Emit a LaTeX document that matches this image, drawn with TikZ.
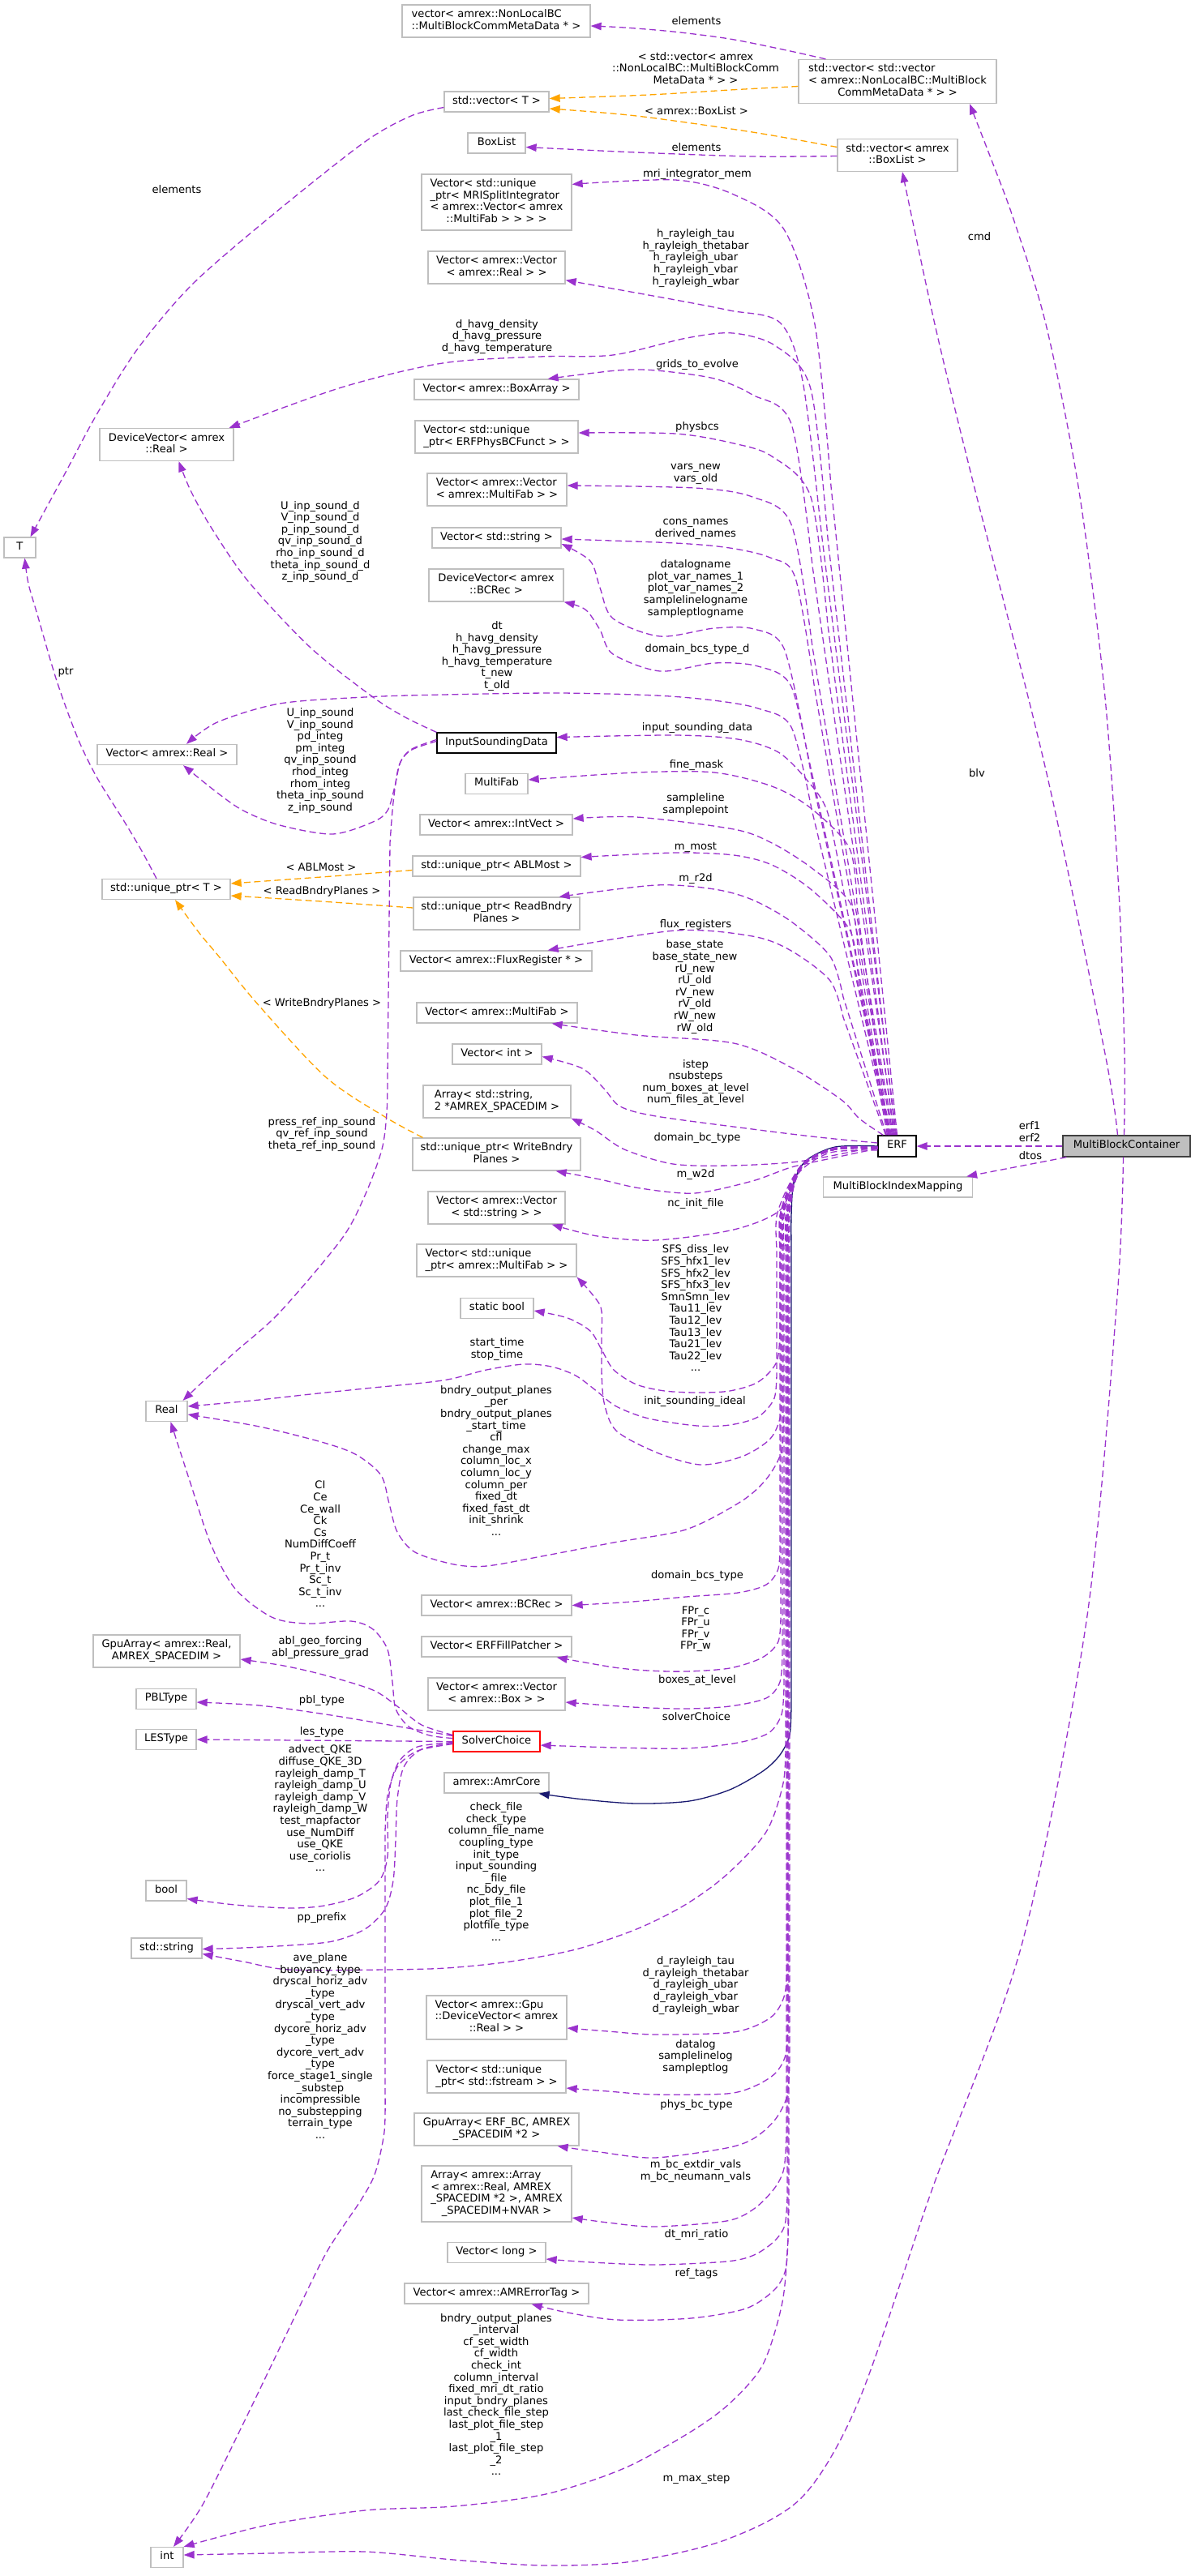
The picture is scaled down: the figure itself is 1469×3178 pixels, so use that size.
\documentclass[tikz,border=0pt]{standalone}
\usepackage{fontspec}
\setmainfont{DejaVu Sans}
\usetikzlibrary{arrows.meta}
\definecolor{epurple}{HTML}{9A32CD}
\definecolor{eorange}{HTML}{FFA500}
\definecolor{enavy}{HTML}{191970}
\definecolor{bgray}{HTML}{BFBFBF}
\definecolor{mbcdraw}{HTML}{404040}
\newcommand{\boxlines}[1]{\begin{tabular}{@{}l@{}}#1\end{tabular}}
\newcommand{\lastc}[1]{\multicolumn{1}{@{}c@{}}{#1}}
\newcommand{\lbltxt}[1]{\begin{tabular}{@{}c@{}}#1\end{tabular}}
\begin{document}
\begin{tikzpicture}[x=1pt,y=-1pt,
  font=\fontsize{13.1pt}{14.6pt}\selectfont,
  cls/.style={draw=bgray, line width=1.3pt, fill=white, inner sep=0pt, minimum height=25pt, text=black},
  hb/.style={minimum height=40pt},
  hc/.style={minimum height=54pt},
  hd/.style={minimum height=69pt},
  pe/.style={draw=epurple, line width=1.3pt, dash pattern=on 8pt off 4.5pt, -{Triangle[length=13pt,width=9.5pt]}},
  oe/.style={pe, draw=eorange},
  ne/.style={draw=enavy, line width=1.3pt, -{Triangle[length=13pt,width=9.5pt]}},
  lab/.style={inner sep=0pt, text=black},
]
\fill[white] (0,0) rectangle (1469,3178);
\useasboundingbox (0,0) rectangle (1469,3178);

% ---------------- nodes: left column
\node[cls, minimum width=39pt] (T) at (24.5,675.5) {\boxlines{T}};
\node[cls, hb, minimum width=165pt] (devReal) at (205.5,548.5) {\boxlines{DeviceVector< amrex\\\lastc{::Real >}}};
\node[cls, minimum width=172pt] (vecReal) at (206,931) {\boxlines{Vector< amrex::Real >}};
\node[cls, minimum width=158pt] (uptrT) at (205,1097) {\boxlines{std::unique\_ptr< T >}};
\node[cls, minimum width=51pt] (Real) at (205.5,1741) {\boxlines{Real}};
\node[cls, hb, minimum width=181pt] (gpuReal) at (205.5,2037) {\boxlines{GpuArray< amrex::Real,\\\lastc{AMREX\_SPACEDIM >}}};
\node[cls, minimum width=74pt] (PBL) at (205,2096) {\boxlines{PBLType}};
\node[cls, minimum width=74pt] (LES) at (205,2146) {\boxlines{LESType}};
\node[cls, minimum width=50pt] (bool) at (205,2332.5) {\boxlines{bool}};
\node[cls, minimum width=87pt] (string) at (205.5,2403.5) {\boxlines{std::string}};
\node[cls, minimum width=40pt] (int) at (206,3155) {\boxlines{int}};

% ---------------- nodes: middle column
\node[cls, hb, minimum width=232pt] (vecNL) at (612,26) {\boxlines{vector< amrex::NonLocalBC\\\lastc{::MultiBlockCommMetaData * >}}};
\node[cls, minimum width=129pt] (vecT) at (612.5,125.5) {\boxlines{std::vector< T >}};
\node[cls, minimum width=71pt] (BoxList) at (612.5,176.5) {\boxlines{BoxList}};
\node[cls, hd, minimum width=185pt] (vecMRI) at (612.5,249.5) {\boxlines{Vector< std::unique\\\_ptr< MRISplitIntegrator\\< amrex::Vector< amrex\\\lastc{::MultiFab > > > >}}};
\node[cls, hb, minimum width=169pt] (vecVecReal) at (612.5,330) {\boxlines{Vector< amrex::Vector\\\lastc{< amrex::Real > >}}};
\node[cls, minimum width=203pt] (vecBA) at (612.5,480.5) {\boxlines{Vector< amrex::BoxArray >}};
\node[cls, hb, minimum width=201pt] (vecPhys) at (612.5,539) {\boxlines{Vector< std::unique\\\lastc{\_ptr< ERFPhysBCFunct > >}}};
\node[cls, hb, minimum width=172pt] (vecVecMF) at (613,604) {\boxlines{Vector< amrex::Vector\\\lastc{< amrex::MultiFab > >}}};
\node[cls, minimum width=159pt] (vecStr) at (612.5,663.5) {\boxlines{Vector< std::string >}};
\node[cls, hb, minimum width=166pt] (devBC) at (612,722) {\boxlines{DeviceVector< amrex\\\lastc{::BCRec >}}};
\node[cls, draw=black, minimum width=147pt] (ISD) at (612.5,916.5) {\boxlines{InputSoundingData}};
\node[cls, minimum width=77pt] (MF) at (612.5,967) {\boxlines{MultiFab}};
\node[cls, minimum width=188pt] (vecIV) at (612,1017.5) {\boxlines{Vector< amrex::IntVect >}};
\node[cls, minimum width=207pt] (uptrABL) at (612.5,1068.5) {\boxlines{std::unique\_ptr< ABLMost >}};
\node[cls, hb, minimum width=205pt] (uptrRead) at (612.5,1127) {\boxlines{std::unique\_ptr< ReadBndry\\\lastc{Planes >}}};
\node[cls, minimum width=236pt] (vecFlux) at (612,1185.5) {\boxlines{Vector< amrex::FluxRegister * >}};
\node[cls, minimum width=198pt] (vecMF) at (613,1249.5) {\boxlines{Vector< amrex::MultiFab >}};
\node[cls, minimum width=110pt] (vecInt) at (613,1300.5) {\boxlines{Vector< int >}};
\node[cls, hb, minimum width=182pt] (arrStr) at (613,1359) {\boxlines{Array< std::string,\\\lastc{2 *AMREX\_SPACEDIM >}}};
\node[cls, hb, minimum width=207pt] (uptrWrite) at (612.5,1424) {\boxlines{std::unique\_ptr< WriteBndry\\\lastc{Planes >}}};
\node[cls, hb, minimum width=169pt] (vecVecStr) at (612.5,1490) {\boxlines{Vector< amrex::Vector\\\lastc{< std::string > >}}};
\node[cls, hb, minimum width=197pt] (vecUMF) at (612.5,1555) {\boxlines{Vector< std::unique\\\lastc{\_ptr< amrex::MultiFab > >}}};
\node[cls, minimum width=90pt] (sbool) at (613,1614) {\boxlines{static bool}};
\node[cls, minimum width=185pt] (vecBC) at (612.5,1980.5) {\boxlines{Vector< amrex::BCRec >}};
\node[cls, minimum width=185pt] (vecFill) at (612.5,2031.5) {\boxlines{Vector< ERFFillPatcher >}};
\node[cls, hb, minimum width=169pt] (vecVecBox) at (612.5,2090) {\boxlines{Vector< amrex::Vector\\\lastc{< amrex::Box > >}}};
\node[cls, draw=red, minimum width=107pt] (SC) at (612.5,2148.5) {\boxlines{SolverChoice}};
\node[cls, minimum width=129pt] (Amr) at (612.5,2199.5) {\boxlines{amrex::AmrCore}};
\node[cls, hc, minimum width=173pt] (vecGpuDV) at (612.5,2489) {\boxlines{Vector< amrex::Gpu\\::DeviceVector< amrex\\\lastc{::Real > >}}};
\node[cls, hb, minimum width=171pt] (vecFs) at (612.5,2562) {\boxlines{Vector< std::unique\\\lastc{\_ptr< std::fstream > >}}};
\node[cls, hb, minimum width=203pt] (gpuBC) at (612.5,2627) {\boxlines{GpuArray< ERF\_BC, AMREX\\\lastc{\_SPACEDIM *2 >}}};
\node[cls, hd, minimum width=185pt] (arrArr) at (612.5,2706.5) {\boxlines{Array< amrex::Array\\< amrex::Real, AMREX\\\_SPACEDIM *2 >, AMREX\\\lastc{\_SPACEDIM+NVAR >}}};
\node[cls, minimum width=121pt] (vecLong) at (612.5,2779) {\boxlines{Vector< long >}};
\node[cls, minimum width=227pt] (vecTag) at (612.5,2829.5) {\boxlines{Vector< amrex::AMRErrorTag >}};

% ---------------- nodes: right column
\node[cls, hc, minimum width=244pt] (vecVecNL) at (1107,100.5) {\boxlines{std::vector< std::vector\\< amrex::NonLocalBC::MultiBlock\\\lastc{CommMetaData * > >}}};
\node[cls, hb, minimum width=148pt] (vecBL) at (1107,191.5) {\boxlines{std::vector< amrex\\\lastc{::BoxList >}}};
\node[cls, draw=black, minimum width=47pt, minimum height=26pt] (ERF) at (1106.5,1414) {\boxlines{ERF}};
\node[cls, minimum width=184pt] (MBIM) at (1107.5,1464.5) {\boxlines{MultiBlockIndexMapping}};
\node[cls, draw=mbcdraw, fill=bgray, minimum width=157pt, minimum height=26pt] (MBC) at (1389.5,1414) {\boxlines{MultiBlockContainer}};

% ---------------- edges: top group
\draw[pe] plot[smooth] coordinates {([xshift=34pt]vecVecNL.north west) (970,62) (900,48) (830,39) (770,34) ([yshift=-6pt]vecNL.east)};
\draw[oe] plot[smooth] coordinates {([yshift=-6pt]vecVecNL.west) (900,111) (800,117) ([yshift=4pt]vecT.east)};
\draw[oe] plot[smooth] coordinates {([yshift=10pt]vecBL.west) (928,163) (785,143) ([yshift=-8.5pt]vecT.east)};
\draw[pe] plot[smooth] coordinates {([yshift=-1pt]vecBL.west) (928,193) (785,188) ([yshift=-5pt]BoxList.east)};
\draw[pe] plot[smooth] coordinates {([yshift=-7pt]vecT.west) (507,143) (450,175) (340,262) (238,350) (170,430) (120,510) (77,590) ([xshift=13pt]T.north)};
\draw[pe] plot[smooth] coordinates {([xshift=-12pt]uptrT.north) (175,1050) (153,1013) (120,960) (96,911) (70,840) (46,758) (35,720) ([xshift=6pt]T.south)};
\draw[oe] plot[smooth] coordinates {([yshift=-5pt]uptrABL.west) (396,1082) ([yshift=7pt]uptrT.east)};
\draw[oe] plot[smooth] coordinates {([yshift=7pt]uptrRead.west) (396,1112) ([yshift=-8pt]uptrT.east)};
\draw[oe] plot[smooth] coordinates {([xshift=13pt]uptrWrite.north west) (475,1378) (402,1329) (318,1239) (270,1180) (245,1150) ([xshift=11pt]uptrT.south)};

% ---------------- edges: MultiBlockContainer
\draw[pe] plot[smooth] coordinates {([xshift=-3pt]MBC.north) (1387,1300) (1380,1100) (1362,850) (1330,600) (1290,400) (1250,270) (1222,195) ([xshift=89pt]vecVecNL.south)};
\draw[pe] plot[smooth] coordinates {([xshift=-11pt]MBC.north) (1363,1300) (1290,950) (1199,590) (1153,400) ([xshift=6pt]vecBL.south)};
\draw[pe] (MBC.west) -- (ERF.east);
\draw[pe] ([xshift=5pt]MBC.south west) -- ([xshift=-8pt]MBIM.north east);
\draw[pe] plot[smooth] coordinates {([xshift=-4pt]MBC.south) (1378,1600) (1340,2000) (1260,2400) (1150,2700) (1060,2960) (990,3080) (896,3133) (780,3160) (673,3165) (560,3158) (450,3148) (330,3150) ([yshift=3pt]int.east)};

% ---------------- edges: ERF upward
\draw[pe] (ERF.north) -- plot[smooth] coordinates {(1025,600) (1005,400) (967,283) (905,240) (833,222) ([yshift=-13pt]vecMRI.north east)};
\draw[pe] ([xshift=-1pt]ERF.north) -- plot[smooth] coordinates {(1013,656) (990,470) (962,398) (900,383) (833,370) ([yshift=5pt]vecVecReal.south east)};
\draw[pe] ([xshift=-2pt]ERF.north) -- plot[smooth] coordinates {(1021,664) (1000,480) (957,427) (904,411) (847,417) (756,438) (665,440) (546,448) (421,478) ([xshift=-6pt]devReal.north east)};
\draw[pe] ([xshift=-3pt]ERF.north) -- plot[smooth] coordinates {(1002,698) (976,523) (928,487) (881,467) (809,457) (761,457) ([xshift=-39pt]vecBA.north east)};
\draw[pe] ([xshift=-4pt]ERF.north) -- plot[smooth] coordinates {(1021,771) (1000,613) (952,563) (905,547) (833,535) ([yshift=5pt]vecPhys.east)};
\draw[pe] ([xshift=-5pt]ERF.north) -- plot[smooth] coordinates {(1002,798) (976,647) (928,613) (857,602) ([yshift=5pt]vecVecMF.east)};
\draw[pe] ([xshift=-6pt]ERF.north) -- plot[smooth] coordinates {(1005,851) (981,713) (950,688) (900,676) (833,670) ([yshift=-1.5pt]vecStr.east)};
\draw[pe] ([xshift=-7pt]ERF.north) -- plot[smooth] coordinates {(994,920) (967,800) (930,776) (881,775) (814,785) (756,763) (740,725) (728,692) ([yshift=-7.5pt]vecStr.east)};
\draw[pe] ([xshift=-8pt]ERF.north) -- plot[smooth] coordinates {(1001,958) (976,847) (935,822) (881,818) (814,828) (756,807) (740,777) (722,752) (devBC.south east)};
\draw[pe] ([xshift=-9pt]ERF.north) -- plot[smooth] coordinates {(1001,998) (976,897) (935,874) (880,864) (809,858) (689,855) (546,857) (450,860) (345,868) (268,891) ([xshift=24pt]vecReal.north)};
\draw[pe] ([xshift=-10pt]ERF.north) -- plot[smooth] coordinates {(1037,1080) (1020,1000) (995,962) (960,928) (910,912) (833,907) ([yshift=7pt]ISD.east)};
\draw[pe] ([xshift=-10pt]ERF.north) -- plot[smooth] coordinates {(1057,1118) (1048,1047) (1000,997) (952,970) (881,953) (785,953) ([yshift=5pt]MF.east)};
\draw[pe] ([xshift=-11pt]ERF.north) -- plot[smooth] coordinates {(1058,1170) (1048,1113) (1000,1070) (952,1040) (905,1023) (785,1008) ([yshift=7.5pt]vecIV.east)};
\draw[pe] ([xshift=-12pt]ERF.north) -- plot[smooth] coordinates {(1058,1200) (1048,1147) (1000,1097) (952,1067) (905,1055) (833,1052) ([yshift=11pt]uptrABL.east)};
\draw[pe] ([xshift=-13pt]ERF.north) -- plot[smooth] coordinates {(1040,1230) (1024,1180) (976,1137) (928,1110) (881,1097) (809,1092) ([xshift=-26pt]uptrRead.north east)};
\draw[pe] ([xshift=-14pt]ERF.north) -- plot[smooth] coordinates {(1040,1255) (1024,1210) (976,1173) (928,1155) (833,1148) ([xshift=-55pt]vecFlux.north east)};
\draw[pe] plot[smooth] coordinates {([xshift=7pt]ERF.north west) (1060,1380) (1038,1357) (976,1317) (905,1287) (785,1277) ([xshift=-32pt]vecMF.south east)};

% ---------------- edges: ERF left
\draw[pe] plot[smooth] coordinates {([yshift=4pt]ERF.west) (1010,1403) (928,1393) (809,1377) (765,1365) (745,1343) (718,1318) ([yshift=-3pt]vecInt.east)};
\draw[pe] plot[smooth] coordinates {(ERF.west) (1030,1425) (976,1434) (900,1438) (830,1436) (770,1418) (735,1395) (arrStr.south east)};
\draw[pe] plot[smooth] coordinates {([yshift=-3pt]ERF.west) (1030,1428) (976,1440) (928,1457) (857,1472) (790,1466) (740,1455) ([xshift=-31pt]uptrWrite.south east)};
\draw[pe] plot[smooth] coordinates {([yshift=-5pt]ERF.west) (1024,1422) (985,1447) (962,1493) (905,1517) (809,1530) (737,1525) ([xshift=-17pt]vecVecStr.south east)};

% ---------------- edges: ERF trunk
\draw[pe] plot[smooth] coordinates {([yshift=-2pt]ERF.west) (1030,1417) (993,1434) (976,1460) (964,1500) (964,1540)} -- plot[smooth] coordinates {(964,1700) (963,1745) (950,1775) (915,1797) (864,1807) (810,1792) (760,1765) (745,1730) (742,1690)} -- plot[smooth] coordinates {(742,1640) (740,1610) (vecUMF.south east)};
\draw[pe] plot[smooth] coordinates {([yshift=-1pt]ERF.west) (1030,1416) (993,1433) (975,1460) (962,1500) (962,1540)} -- plot[smooth] coordinates {(962,1640) (958,1680) (935,1705) (900,1716) (861,1718) (820,1716) (785,1708) (757,1690) (742,1665) (728,1642) (700,1626) ([yshift=-3pt]sbool.east)};
\draw[pe] plot[smooth] coordinates {([yshift=-2pt]ERF.west) (1030,1417) (993,1434) (974,1460) (958,1500) (958,1540)} -- plot[smooth] coordinates {(958,1690) (955,1725) (935,1748) (900,1758) (860,1759) (800,1750) (760,1735) (737,1717) (710,1697) (680,1686) (646,1683) (600,1690) (546,1703) (450,1713) (383,1720) (310,1728) ([yshift=6pt]Real.east)};
\draw[pe] plot[smooth] coordinates {([yshift=-3pt]ERF.west) (1030,1418) (993,1435) (977,1460) (966,1500) (966,1540)} -- plot[smooth] coordinates {(966,1740) (964,1790) (945,1825) (913,1853) (846,1887) (757,1903) (668,1920) (600,1932) (560,1930) (512,1915) (490,1890) (480,1855) (470,1820) (440,1795) (400,1780) (320,1760) ([yshift=-4pt]Real.east)};
\draw[pe] plot[smooth] coordinates {([yshift=-1pt]ERF.west) (1030,1416) (993,1433) (975,1460) (962,1500) (962,1540)} -- plot[smooth] coordinates {(962,1900) (960,1935) (945,1955) (910,1965) (846,1970) (780,1976) (vecBC.east)};
\draw[pe] plot[smooth] coordinates {([yshift=-2pt]ERF.west) (1030,1417) (993,1434) (976,1460) (963,1500) (963,1540)} -- plot[smooth] coordinates {(963,1990) (960,2025) (940,2045) (900,2058) (846,2062) (800,2061) (757,2057) ([xshift=-19pt]vecFill.south east)};
\draw[pe] plot[smooth] coordinates {([yshift=-3pt]ERF.west) (1030,1418) (993,1435) (977,1460) (965,1500) (965,1540)} -- plot[smooth] coordinates {(965,2040) (962,2075) (945,2095) (900,2105) (846,2108) (780,2106) ([yshift=-10pt]vecVecBox.east)};
\draw[pe] plot[smooth] coordinates {([yshift=-1pt]ERF.west) (1030,1416) (993,1433) (977,1460) (967,1500) (967,1540)} -- plot[smooth] coordinates {(967,2080) (964,2115) (948,2138) (910,2150) (846,2157) (760,2156) ([yshift=-4.5pt]SC.east)};
\draw[ne] plot[smooth] coordinates {(ERF.west) (1030,1415) (994,1432) (979,1460) (976,1500) (976,1540)} -- plot[smooth] coordinates {(976,2100) (974,2140) (962,2165) (941,2185) (900,2208) (850,2222) (785,2225) (720,2220) ([xshift=-13pt]Amr.south east)};
\draw[pe] plot[smooth] coordinates {([yshift=-2pt]ERF.west) (1030,1417) (993,1434) (978,1460) (969,1500) (969,1540)} -- plot[smooth] coordinates {(969,2150) (966,2200) (945,2260) (896,2313) (845,2350) (785,2380) (710,2405) (629,2420) (550,2428) (473,2430) (357,2430) (300,2420) ([yshift=-7pt]string.east)};
\draw[pe] plot[smooth] coordinates {([yshift=-3pt]ERF.west) (1030,1418) (993,1435) (979,1460) (971,1500) (971,1540)} -- plot[smooth] coordinates {(971,2420) (968,2460) (955,2485) (930,2500) (896,2508) (807,2510) (750,2506) ([yshift=-13pt]vecGpuDV.east)};
\draw[pe] plot[smooth] coordinates {([yshift=-1pt]ERF.west) (1030,1416) (993,1433) (979,1460) (972,1500) (972,1540)} -- plot[smooth] coordinates {(972,2495) (969,2535) (956,2558) (930,2574) (896,2583) (807,2584) (750,2580) ([yshift=-14pt]vecFs.east)};
\draw[pe] plot[smooth] coordinates {([yshift=-2pt]ERF.west) (1030,1417) (994,1434) (980,1460) (974,1500) (974,1540)} -- plot[smooth] coordinates {(974,2540) (971,2585) (956,2615) (930,2638) (896,2650) (807,2662) (740,2655) ([xshift=-27pt]gpuBC.south east)};
\draw[pe] plot[smooth] coordinates {([yshift=-3pt]ERF.west) (1030,1418) (993,1435) (978,1460) (970,1500) (970,1540)} -- plot[smooth] coordinates {(970,2630) (967,2675) (955,2700) (930,2725) (896,2740) (807,2747) (750,2742) ([yshift=-29.5pt]arrArr.east)};
\draw[pe] plot[smooth] coordinates {([yshift=-1pt]ERF.west) (1030,1416) (993,1433) (979,1460) (971,1500) (971,1540)} -- plot[smooth] coordinates {(971,2710) (968,2745) (955,2765) (930,2782) (896,2790) (807,2794) (730,2791) ([yshift=-8pt]vecLong.east)};
\draw[pe] plot[smooth] coordinates {([yshift=-2pt]ERF.west) (1030,1417) (993,1434) (979,1460) (972,1500) (972,1540)} -- plot[smooth] coordinates {(972,2760) (969,2800) (955,2825) (920,2848) (852,2860) (762,2862) (700,2853) ([xshift=-71pt]vecTag.south east)};
\draw[pe] plot[smooth] coordinates {([yshift=-3pt]ERF.west) (1030,1418) (994,1435) (980,1460) (973,1500) (973,1540)} -- plot[smooth] coordinates {(973,2700) (972,2760) (965,2840) (941,2917) (900,2965) (852,3000) (770,3045) (673,3077) (560,3092) (450,3097) (330,3115) (int.north east)};

% ---------------- edges: SolverChoice
\draw[pe] plot[smooth] coordinates {([yshift=4pt]SC.west) (530,2141) (504,2130) (488,2108) (484,2075) (478,2035) (460,2010) (433,2000) (379,2003) (335,1995) (290,1960) (260,1905) (235,1830) ([xshift=5pt]Real.south)};
\draw[pe] plot[smooth] coordinates {([yshift=8pt]SC.west) (520,2128) (490,2105) (460,2085) (402,2067) (350,2055) ([yshift=-10pt]gpuReal.east)};
\draw[pe] plot[smooth] coordinates {([yshift=7pt]SC.west) (480,2128) (402,2115) (320,2104) ([yshift=-4pt]PBL.east)};
\draw[pe] (SC.west) -- (LES.east);
\draw[pe] plot[smooth] coordinates {([yshift=-1pt]SC.west) (515,2155) (493,2172) (482,2200) (478,2240) (478,2290) (468,2320) (440,2340) (400,2351) (357,2354) (290,2350) ([yshift=-10pt]bool.east)};
\draw[pe] plot[smooth] coordinates {([yshift=-2pt]SC.west) (520,2158) (498,2180) (490,2220) (488,2270) (485,2320) (475,2355) (450,2380) (410,2395) (357,2400) (300,2403) ([yshift=-1pt]string.east)};
\draw[pe] plot[smooth] coordinates {([yshift=-3pt]SC.west) (515,2160) (490,2180) (478,2215) (475,2260)} -- plot[smooth] coordinates {(475,2580) (474,2630) (463,2680) (446,2713) (402,2780) (353,2880) (300,2990) (250,3090) ([xshift=8pt]int.north)};

% ---------------- edges: InputSoundingData
\draw[pe] plot[smooth] coordinates {(ISD.north west) (500,885) (460,860) (383,799) (306,717) (260,650) (235,605) ([xshift=15pt]devReal.south)};
\draw[pe] plot[smooth] coordinates {([yshift=4pt]ISD.west) (508,924) (494,940) (487,970) (478,1000) (460,1014) (410,1029) (345,1018) (300,1000) (268,978) ([xshift=20pt]vecReal.south)};
\draw[pe] plot[smooth] coordinates {([yshift=2pt]ISD.west) (506,926) (492,945) (485,990) (481,1040)} -- plot[smooth] coordinates {(478,1330) (477,1373) (471,1418) (450,1475) (421,1529) (345,1619) (290,1668) (255,1700) ([xshift=20pt]Real.north)};

% ---------------- labels
\node[lab] (l1) at (859,26) {elements};
\node[lab] (l2) at (858,86) {\lbltxt{< std::vector< amrex\\::NonLocalBC::MultiBlockComm\\MetaData * > >}};
\node[lab] (l3) at (859,137) {< amrex::BoxList >};
\node[lab] (l4) at (859,182) {elements};
\node[lab] (l5) at (218,234) {elements};
\node[lab] (l6) at (860,215) {mri\_integrator\_mem};
\node[lab] (l7) at (858,319) {\lbltxt{h\_rayleigh\_tau\\h\_rayleigh\_thetabar\\h\_rayleigh\_ubar\\h\_rayleigh\_vbar\\h\_rayleigh\_wbar}};
\node[lab] (l8) at (613,416) {\lbltxt{d\_havg\_density\\d\_havg\_pressure\\d\_havg\_temperature}};
\node[lab] (l9) at (860,450) {grids\_to\_evolve};
\node[lab] (l10) at (860,527) {physbcs};
\node[lab] (l11) at (858,584) {\lbltxt{vars\_new\\vars\_old}};
\node[lab] (l12) at (858,652) {\lbltxt{cons\_names\\derived\_names}};
\node[lab] (l13) at (858,727) {\lbltxt{datalogname\\plot\_var\_names\_1\\plot\_var\_names\_2\\samplelinelogname\\sampleptlogname}};
\node[lab] (l14) at (860,801) {domain\_bcs\_type\_d};
\node[lab] (l15) at (395,669) {\lbltxt{U\_inp\_sound\_d\\V\_inp\_sound\_d\\p\_inp\_sound\_d\\qv\_inp\_sound\_d\\rho\_inp\_sound\_d\\theta\_inp\_sound\_d\\z\_inp\_sound\_d}};
\node[lab] (l16) at (613,810) {\lbltxt{dt\\h\_havg\_density\\h\_havg\_pressure\\h\_havg\_temperature\\t\_new\\t\_old}};
\node[lab] (l17) at (81,829) {ptr};
\node[lab] (l18) at (860,898) {input\_sounding\_data};
\node[lab] (l19) at (395,939) {\lbltxt{U\_inp\_sound\\V\_inp\_sound\\pd\_integ\\pm\_integ\\qv\_inp\_sound\\rhod\_integ\\rhom\_integ\\theta\_inp\_sound\\z\_inp\_sound}};
\node[lab] (l20) at (859,944) {fine\_mask};
\node[lab] (l21) at (858,993) {\lbltxt{sampleline\\samplepoint}};
\node[lab] (l22) at (858,1045) {m\_most};
\node[lab] (l23) at (396,1070) {< ABLMost >};
\node[lab] (l24) at (858,1084) {m\_r2d};
\node[lab] (l25) at (397,1100) {< ReadBndryPlanes >};
\node[lab] (l26) at (858,1141) {flux\_registers};
\node[lab] (l27) at (857,1218) {\lbltxt{base\_state\\base\_state\_new\\rU\_new\\rU\_old\\rV\_new\\rV\_old\\rW\_new\\rW\_old}};
\node[lab] (l28) at (858,1336) {\lbltxt{istep\\nsubsteps\\num\_boxes\_at\_level\\num\_files\_at\_level}};
\node[lab] (l29) at (860,1404) {domain\_bc\_type};
\node[lab] (l30) at (858,1449) {m\_w2d};
\node[lab] (l31) at (858,1485) {nc\_init\_file};
\node[lab] (l32) at (397,1238) {< WriteBndryPlanes >};
\node[lab] (l33) at (397,1400) {\lbltxt{press\_ref\_inp\_sound\\qv\_ref\_inp\_sound\\theta\_ref\_inp\_sound}};
\node[lab] (l34) at (858,1616) {\lbltxt{SFS\_diss\_lev\\SFS\_hfx1\_lev\\SFS\_hfx2\_lev\\SFS\_hfx3\_lev\\SmnSmn\_lev\\Tau11\_lev\\Tau12\_lev\\Tau13\_lev\\Tau21\_lev\\Tau22\_lev\\...}};
\node[lab] (l35) at (613,1665) {\lbltxt{start\_time\\stop\_time}};
\node[lab] (l36) at (857,1729) {init\_sounding\_ideal};
\node[lab] (l37) at (612,1804) {\lbltxt{bndry\_output\_planes\\\_per\\bndry\_output\_planes\\\_start\_time\\cfl\\change\_max\\column\_loc\_x\\column\_loc\_y\\column\_per\\fixed\_dt\\fixed\_fast\_dt\\init\_shrink\\...}};
\node[lab] (l38) at (395,1907) {\lbltxt{CI\\Ce\\Ce\_wall\\Ck\\Cs\\NumDiffCoeff\\Pr\_t\\Pr\_t\_inv\\Sc\_t\\Sc\_t\_inv\\...}};
\node[lab] (l39) at (860,1944) {domain\_bcs\_type};
\node[lab] (l40) at (858,2010) {\lbltxt{FPr\_c\\FPr\_u\\FPr\_v\\FPr\_w}};
\node[lab] (l41) at (395,2033) {\lbltxt{abl\_geo\_forcing\\abl\_pressure\_grad}};
\node[lab] (l42) at (860,2073) {boxes\_at\_level};
\node[lab] (l43) at (397,2098) {pbl\_type};
\node[lab] (l44) at (859,2118) {solverChoice};
\node[lab] (l45) at (397,2137) {les\_type};
\node[lab] (l46) at (395,2233) {\lbltxt{advect\_QKE\\diffuse\_QKE\_3D\\rayleigh\_damp\_T\\rayleigh\_damp\_U\\rayleigh\_damp\_V\\rayleigh\_damp\_W\\test\_mapfactor\\use\_NumDiff\\use\_QKE\\use\_coriolis\\...}};
\node[lab] (l47) at (612,2311) {\lbltxt{check\_file\\check\_type\\column\_file\_name\\coupling\_type\\init\_type\\input\_sounding\\\_file\\nc\_bdy\_file\\plot\_file\_1\\plot\_file\_2\\plotfile\_type\\...}};
\node[lab] (l48) at (397,2366) {pp\_prefix};
\node[lab] (l49) at (858,2450) {\lbltxt{d\_rayleigh\_tau\\d\_rayleigh\_thetabar\\d\_rayleigh\_ubar\\d\_rayleigh\_vbar\\d\_rayleigh\_wbar}};
\node[lab] (l50) at (395,2526) {\lbltxt{ave\_plane\\buoyancy\_type\\dryscal\_horiz\_adv\\\_type\\dryscal\_vert\_adv\\\_type\\dycore\_horiz\_adv\\\_type\\dycore\_vert\_adv\\\_type\\force\_stage1\_single\\\_substep\\incompressible\\no\_substepping\\terrain\_type\\...}};
\node[lab] (l51) at (858,2538) {\lbltxt{datalog\\samplelinelog\\sampleptlog}};
\node[lab] (l52) at (859,2597) {phys\_bc\_type};
\node[lab] (l53) at (858,2679) {\lbltxt{m\_bc\_extdir\_vals\\m\_bc\_neumann\_vals}};
\node[lab] (l54) at (859,2757) {dt\_mri\_ratio};
\node[lab] (l55) at (859,2805) {ref\_tags};
\node[lab] (l56) at (612,2956) {\lbltxt{bndry\_output\_planes\\\_interval\\cf\_set\_width\\cf\_width\\check\_int\\column\_interval\\fixed\_mri\_dt\_ratio\\input\_bndry\_planes\\last\_check\_file\_step\\last\_plot\_file\_step\\\_1\\last\_plot\_file\_step\\\_2\\...}};
\node[lab] (l57) at (859,3058) {m\_max\_step};
\node[lab] (l58) at (1270,1398) {\lbltxt{erf1\\erf2}};
\node[lab] (l59) at (1271,1426) {dtos};
\node[lab] (l60) at (1208,292) {cmd};
\node[lab] (l61) at (1205,954) {blv};
\end{tikzpicture}
\end{document}
